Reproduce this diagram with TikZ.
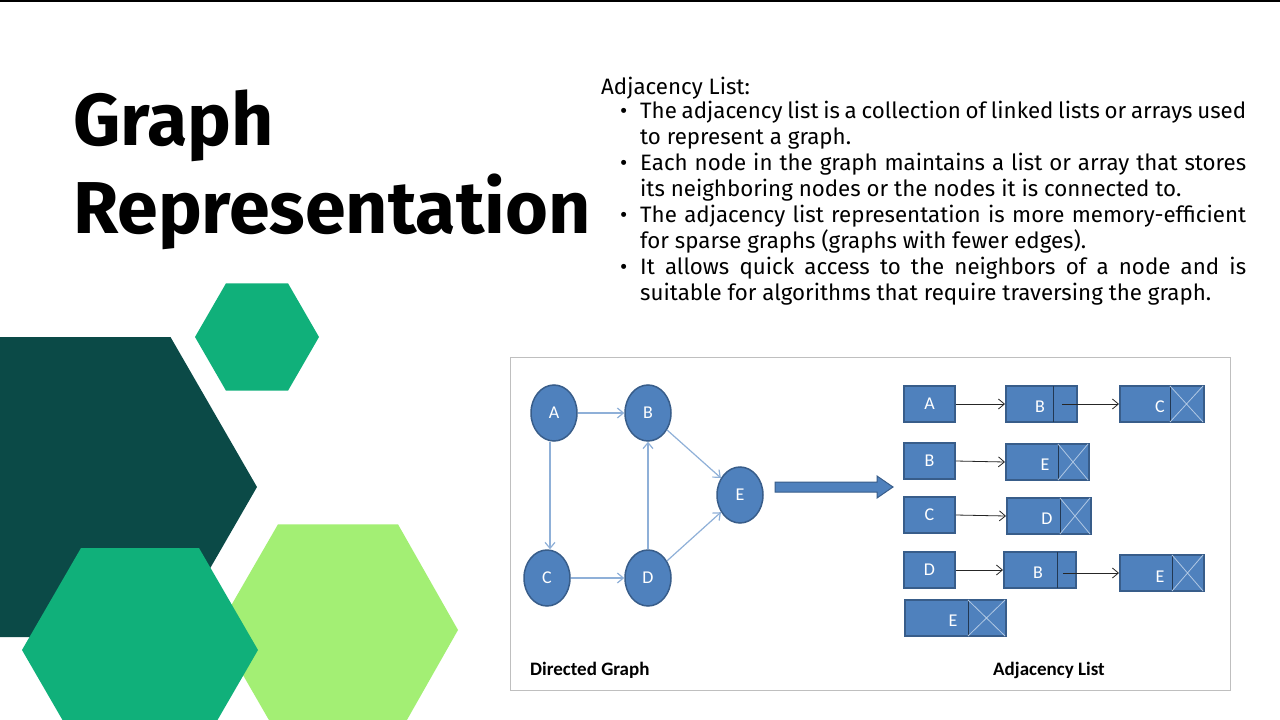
\documentclass[tikz,border=0pt]{standalone}
\usepackage{fontspec}
\setmainfont{Fira Sans}
\newfontfamily\carl{Carlito}
\usetikzlibrary{shapes.geometric,arrows.meta}
\definecolor{dteal}{HTML}{0B4A47}
\definecolor{mgreen}{HTML}{10B07A}
\definecolor{lgreen}{HTML}{A3EF74}
\definecolor{nblue}{HTML}{4F81BD}
\definecolor{nbord}{HTML}{385D8A}
\definecolor{eblue}{HTML}{8FB0D8}
\tikzset{
 gnode/.style={ellipse,fill=nblue,draw=nbord,line width=1.5pt,minimum width=46pt,minimum height=56pt,inner sep=0pt,text=white,font=\carl\fontsize{18}{18}\selectfont},
 gedge/.style={draw=eblue,line width=1.2pt,-{Straight Barb[length=6pt,width=10pt]}},
 lbox/.style={rectangle,fill=nblue,draw=nbord,line width=1.5pt,inner sep=0pt,minimum height=36pt,text=white,font=\carl\fontsize{18}{18}\selectfont},
 ltxt/.style={text=white,font=\carl\fontsize{18}{18}\selectfont},
 ldiv/.style={draw=nbord!60!black,line width=1pt},
 lx/.style={draw=eblue!70!white,line width=0.8pt},
 larr/.style={draw=black!85,line width=0.8pt,-{Straight Barb[length=6pt,width=10pt]}},
 bline/.style={anchor=base west,inner sep=0pt,font=\fontsize{22.3}{24}\selectfont},
 ttl/.style={anchor=base west,inner sep=0pt,font=\fontsize{73.5}{80}\selectfont\bfseries},
}
\begin{document}
\begin{tikzpicture}[x=1pt,y=-1pt]
\useasboundingbox (0,0) rectangle (1280,720);
\fill[white] (0,0) rectangle (1280,720);
\fill[black] (0,0) rectangle (1280,2);
% hexagons
\fill[dteal] (257,487)--(170.5,637)--(-2.5,637)--(-89,487)--(-2.5,337)--(170.5,337)--cycle;
\fill[lgreen] (458,630)--(398,735.7)--(278,735.7)--(217,630)--(278,524.3)--(398,524.3)--cycle;
\fill[mgreen] (258,650)--(199,752)--(81,752)--(22,650)--(81,548)--(199,548)--cycle;
\fill[mgreen] (319,337)--(288,390.7)--(226,390.7)--(195,337)--(226,283.3)--(288,283.3)--cycle;
% title
\node[ttl] (t1) at (73,145) {Graph};
\node[ttl] (t2) at (73,233) {Representation};
% text
\node[bline] (h) at (601,94) {Adjacency List:};
\foreach \y in {118,170,222,274}{\node[bline] at (620,\y) {\textbullet};}
\node[bline] (l1) at (640,118) {\makebox[606pt][s]{The adjacency list is a collection of linked lists or arrays used}};
\node[bline] (l2) at (640,144) {to represent a graph.};
\node[bline] (l3) at (640,170) {\makebox[606pt][s]{Each node in the graph maintains a list or array that stores}};
\node[bline] (l4) at (640,196) {its neighboring nodes or the nodes it is connected to.};
\node[bline] (l5) at (640,222) {\makebox[606pt][s]{The adjacency list representation is more memory-efficient}};
\node[bline] (l6) at (640,248) {for sparse graphs (graphs with fewer edges).};
\node[bline] (l7) at (640,274) {\makebox[606pt][s]{It allows quick access to the neighbors of a node and is}};
\node[bline] (l8) at (640,300) {suitable for algorithms that require traversing the graph.};
% frame
\draw[draw=black!25,line width=1pt,fill=white] (510,357) rectangle (1230,690);
% graph
\node[gnode] (A) at (554,413) {A};
\node[gnode] (B) at (648,413) {B};
\node[gnode] (E) at (740,495) {E};
\node[gnode] (C) at (547,578) {C};
\node[gnode] (D) at (648,578) {D};
\draw[gedge] (A) -- (B);
\draw[gedge] (A.south) ++(-4,0) coordinate (as) -- (as |- C.north);
\draw[gedge] (C) -- (D);
\draw[gedge] (D) -- (B);
\draw[gedge] (B) -- (E);
\draw[gedge] (D) -- (E);
% big arrow
\draw[fill=nblue,draw=nbord,line width=1pt] (775,482)--(877,482)--(877,476)--(893,487)--(877,498)--(877,492)--(775,492)--cycle;
% row 1
\node[lbox,minimum width=51pt] (a0) at (929.5,404) {A};
\node[lbox,minimum width=71pt,anchor=west] (a1) at (1005,404) {};
\node[ltxt] at (1040,407) {B};
\draw[ldiv] (1053,386)--(1053,422);
\node[lbox,minimum width=84pt,anchor=west] (a2) at (1119,404) {};
\node[ltxt] at (1160,407) {C};
\draw[ldiv] (1170,386)--(1170,422);
\draw[lx] (1170,386)--(1203,422) (1170,422)--(1203,386);
\draw[larr] (a0.east) -- (a1.west);
\draw[larr] (1062,404) -- (a2.west);
% row 2
\node[lbox,minimum width=51pt] (b0) at (929.5,461) {B};
\node[lbox,minimum width=83pt,anchor=west] (b1) at (1005,462) {};
\node[ltxt] at (1045,465) {E};
\draw[ldiv] (1058,444)--(1058,480);
\draw[lx] (1058,444)--(1088,480) (1058,480)--(1088,444);
\draw[larr] (b0.east) -- (b1.west);
% row 3
\node[lbox,minimum width=51pt] (c0) at (929.5,515) {C};
\node[lbox,minimum width=84pt,anchor=west] (c1) at (1006,516) {};
\node[ltxt] at (1047,519) {D};
\draw[ldiv] (1060,498)--(1060,534);
\draw[lx] (1060,498)--(1090,534) (1060,534)--(1090,498);
\draw[larr] (c0.east) -- (c1.west);
% row 4
\node[lbox,minimum width=51pt] (d0) at (929.5,570) {D};
\node[lbox,minimum width=72pt,anchor=west] (d1) at (1003,570) {};
\node[ltxt] at (1038,573) {B};
\draw[ldiv] (1057,552)--(1057,588);
\node[lbox,minimum width=84pt,anchor=west] (d2) at (1119,573) {};
\node[ltxt] at (1160,577) {E};
\draw[ldiv] (1172,555)--(1172,591);
\draw[lx] (1172,555)--(1203,591) (1172,591)--(1203,555);
\draw[larr] (d0.east) -- (d1.west);
\draw[larr] (1063,573) -- (d2.west);
% row 5
\node[lbox,minimum width=101pt,anchor=west] (e0) at (904,618) {};
\node[ltxt] at (953,621) {E};
\draw[ldiv] (968,600)--(968,636);
\draw[lx] (968,600)--(1005,636) (968,636)--(1005,600);
% captions
\node[anchor=base west,inner sep=0pt,font=\carl\bfseries\fontsize{19}{19}\selectfont] (cap1) at (530,675) {Directed Graph};
\node[anchor=base west,inner sep=0pt,font=\carl\bfseries\fontsize{19}{19}\selectfont] (cap2) at (993,675) {Adjacency List};
\end{tikzpicture}
\end{document}
